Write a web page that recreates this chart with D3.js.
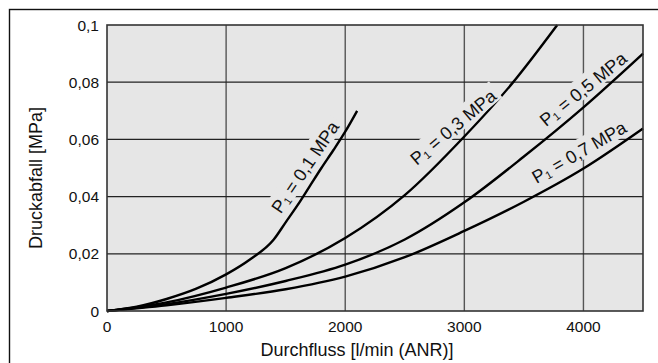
<!DOCTYPE html>
<html>
<head>
<meta charset="utf-8">
<script src="https://cdn.jsdelivr.net/npm/d3@7"></script>
<style>
  body { margin: 0; background: #fff; }
  svg { font-family: "Liberation Sans", Arial, sans-serif; }
</style>
</head>
<body>
<div id="chart"></div>
<script>
// flow [l/min (ANR)] vs pressure drop [MPa], one curve per inlet pressure
var curveNames = ["0,1", "0,3", "0,5", "0,7"];
var flow01 = [0, 250, 500, 750, 1000, 1200, 1400, 1500, 1600, 1700, 1800, 1900, 2000, 2100];
var drop01 = [0, 0.0015, 0.0042, 0.0078, 0.0128, 0.0180, 0.0250, 0.0310, 0.0370, 0.0435, 0.0500, 0.0562, 0.0627, 0.0700];
var flow03 = [0, 500, 1000, 1500, 2000, 2500, 3000, 3400, 3780];
var drop03 = [0, 0.0030, 0.0082, 0.0150, 0.0255, 0.0405, 0.0610, 0.0795, 0.1000];
var flow05 = [0, 500, 1000, 1500, 2000, 2500, 3000, 3500, 4000, 4500];
var drop05 = [0, 0.0024, 0.0060, 0.0105, 0.0162, 0.0250, 0.0380, 0.0540, 0.0712, 0.0900];
var flow07 = [0, 500, 1000, 1500, 2000, 2500, 3000, 3500, 4000, 4500];
var drop07 = [0, 0.0020, 0.0046, 0.0076, 0.0120, 0.0188, 0.0280, 0.0382, 0.0498, 0.0638];
var xTicks = [0, 1000, 2000, 3000, 4000];
var yTicks = [0, 0.02, 0.04, 0.06, 0.08, 0.1];
var yTickLabels = ["0", "0,02", "0,04", "0,06", "0,08", "0,1"];

var series = [
  { name: curveNames[0], x: flow01, y: drop01 },
  { name: curveNames[1], x: flow03, y: drop03 },
  { name: curveNames[2], x: flow05, y: drop05 },
  { name: curveNames[3], x: flow07, y: drop07 }
];

var W = 658, H = 363;
var margin = { top: 25, right: 15, bottom: 52, left: 107 },
  width = W - margin.left - margin.right,
  height = H - margin.top - margin.bottom;

var svg = d3.select("#chart").append("svg")
  .attr("width", W)
  .attr("height", H);

// outer frame
svg.append("rect")
  .attr("x", 9.5).attr("y", 9.5)
  .attr("width", 680).attr("height", 380)
  .attr("fill", "none")
  .attr("stroke", "#111")
  .attr("stroke-width", 1.4);

var g = svg.append("g")
  .attr("transform", "translate(" + margin.left + "," + margin.top + ")");

var x = d3.scaleLinear().domain([0, 4500]).range([0, width]);
var y = d3.scaleLinear().domain([0, 0.1]).range([height, 0]);

g.append("rect")
  .attr("width", width).attr("height", height)
  .attr("fill", "#e6e6e6");

// grid
g.selectAll(".vgrid").data(xTicks.slice(1)).enter().append("line")
  .attr("x1", d => x(d)).attr("x2", d => x(d))
  .attr("y1", 0).attr("y2", height)
  .attr("stroke", "#555").attr("stroke-width", 1.4);
g.selectAll(".hgrid").data(yTicks.slice(1, -1)).enter().append("line")
  .attr("x1", 0).attr("x2", width)
  .attr("y1", d => y(d)).attr("y2", d => y(d))
  .attr("stroke", "#222").attr("stroke-width", 1.3);

// curve labels (with background to break the grid)
var labels = [
  { name: curveNames[0], cx: 305, cy: 167, angle: -56 },
  { name: curveNames[1], cx: 453, cy: 127, angle: -40 },
  { name: curveNames[2], cx: 583, cy: 89, angle: -39 },
  { name: curveNames[3], cx: 579, cy: 152, angle: -30 }
];
var lab = svg.selectAll(".lab").data(labels).enter().append("g")
  .attr("transform", d => "translate(" + d.cx + "," + d.cy + ") rotate(" + d.angle + ")");
lab.append("rect")
  .attr("x", -57).attr("y", -12)
  .attr("width", 114).attr("height", 21)
  .attr("fill", "#e6e6e6");
var lt = lab.append("text")
  .attr("text-anchor", "middle")
  .attr("y", 6.5)
  .attr("font-size", 18)
  .attr("fill", "#111");
lt.append("tspan").text("P");
lt.append("tspan").attr("font-size", 11).attr("dy", 2).text("1");
lt.append("tspan").attr("dy", -2).text(d => " = " + d.name + " MPa");

// curves
var line = d3.line()
  .x(d => x(d[0]))
  .y(d => y(d[1]))
  .curve(d3.curveMonotoneX);
g.selectAll(".curve").data(series).enter().append("path")
  .attr("d", s => line(s.x.map((v, i) => [v, s.y[i]])))
  .attr("fill", "none")
  .attr("stroke", "#000")
  .attr("stroke-width", 2.4);

// plot border
g.append("rect")
  .attr("width", width).attr("height", height)
  .attr("fill", "none")
  .attr("stroke", "#333").attr("stroke-width", 1.6);

// tick labels
g.selectAll(".xt").data(xTicks).enter().append("text")
  .attr("x", d => x(d)).attr("y", height + 21)
  .attr("text-anchor", "middle")
  .attr("font-size", 15.5)
  .attr("fill", "#111")
  .text(d => d);
g.selectAll(".yt").data(yTicks).enter().append("text")
  .attr("x", -8).attr("y", d => y(d) + 5.5)
  .attr("text-anchor", "end")
  .attr("font-size", 15.5)
  .attr("fill", "#111")
  .text((d, i) => yTickLabels[i]);

// axis titles
svg.append("text")
  .attr("x", 357).attr("y", 356)
  .attr("text-anchor", "middle")
  .attr("font-size", 18)
  .attr("fill", "#111")
  .text("Durchfluss [l/min (ANR)]");
svg.append("text")
  .attr("transform", "translate(42,178) rotate(-90)")
  .attr("text-anchor", "middle")
  .attr("font-size", 18)
  .attr("fill", "#111")
  .text("Druckabfall [MPa]");
</script>
</body>
</html>
